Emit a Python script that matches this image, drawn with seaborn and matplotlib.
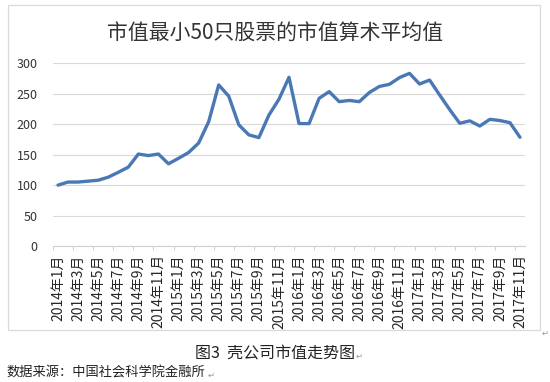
import matplotlib
matplotlib.use("Agg")
import matplotlib.pyplot as plt
import seaborn as sns
import pandas as pd
import numpy as np
from matplotlib.patches import Rectangle

# ---- data ----
years = [2014, 2015, 2016, 2017]
months = [f"{y}年{m}月" for y in years for m in range(1, 13)][:47]  # 2014年1月 .. 2017年11月
values = [100, 105, 105, 106.5, 108, 113, 121, 129.5, 151, 148.5, 151, 135,
          144, 153.5, 169, 204, 264.5, 246, 199, 182.5, 178, 215, 241, 277,
          201, 201, 242.5, 253.5, 237, 239, 237, 252, 262, 265.5, 276.5, 283.5,
          266, 272.5, 248, 224, 201.5, 205.5, 197, 208, 206, 202.5, 178.5]
title = "市值最小50只股票的市值算术平均值"
caption = "图3  壳公司市值走势图"
source = "数据来源：中国社会科学院金融所"
yticks = [0, 50, 100, 150, 200, 250, 300]

df = pd.DataFrame({"idx": np.arange(len(months)), "month": months, "value": values})

sns.set_theme(style="white")
plt.rcParams['font.family'] = ['Noto Sans CJK SC', 'DejaVu Sans']

fig = plt.figure(figsize=(5.5, 3.82), dpi=100)
ax = fig.add_axes([53/550, 1-246/382, (525-53)/550, (246-63.3)/382])

sns.lineplot(data=df, x="idx", y="value", ax=ax, color="#4A78B4", linewidth=2.4)

ax.set_xlim(-0.5, len(months) - 0.5)
ax.set_ylim(0, 300)
ax.set_yticks(yticks)
ax.set_yticklabels([str(v) for v in yticks], fontsize=9, color="#333333")
ax.tick_params(axis="y", length=0, pad=11)

lab_pos = np.arange(0, len(months), 2)
ax.set_xticks(lab_pos)
ax.set_xticklabels([months[i] for i in lab_pos], rotation=90, fontsize=10, color="#262626")
ax.set_xticks(np.arange(-0.5, len(months), 2), minor=True)
ax.tick_params(axis="x", which="major", length=0, pad=6)
ax.tick_params(axis="x", which="minor", length=3, color="#d0d0d0", width=0.8, bottom=True)
ax.set_xlabel("")
ax.set_ylabel("")

ax.grid(axis="y", color="#d9d9d9", linewidth=0.8)
ax.set_axisbelow(True)
for s in ["top", "right", "left"]:
    ax.spines[s].set_visible(False)
ax.spines["bottom"].set_color("#d0d0d0")
ax.spines["bottom"].set_linewidth(0.8)

# chart box
fig.patches.append(Rectangle((8/550, 1-330/382), 532/550, 325/382, transform=fig.transFigure,
                             fill=False, edgecolor="#d9d9d9", linewidth=0.9))

fig.text(275/550, 1-33/382, title, ha="center", va="center", fontsize=15, color="#333333")
fig.text(275/550, 1-354/382, caption, ha="center", va="center", fontsize=11.5, color="#222222")
fig.text(6/550, 1-373/382, source, ha="left", va="center", fontsize=9.5, color="#222222")
fig.text(545/550, 1-333/382, "↵", ha="center", va="center", fontsize=6, color="#999999",
         family=['DejaVu Sans'])
fig.text(356/550, 1-356/382, "↵", ha="left", va="center", fontsize=6, color="#999999",
         family=['DejaVu Sans'])
fig.text(208/550, 1-375/382, "↵", ha="left", va="center", fontsize=6, color="#999999",
         family=['DejaVu Sans'])

fig.savefig("out.png", dpi=100, facecolor="white")
